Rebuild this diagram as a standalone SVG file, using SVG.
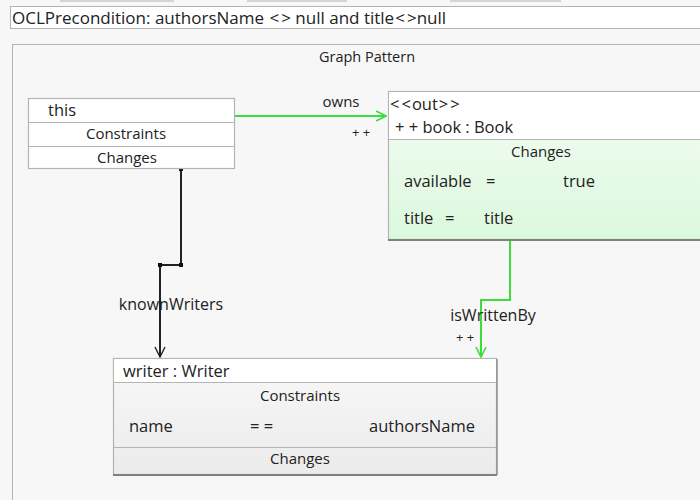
<svg xmlns="http://www.w3.org/2000/svg" width="700" height="500" viewBox="0 0 700 500">
  <defs>
    <linearGradient id="greenFill" x1="0" y1="0" x2="0" y2="1">
      <stop offset="0" stop-color="#f4fdf4"/>
      <stop offset="1" stop-color="#dbf8dd"/>
    </linearGradient>
    <linearGradient id="greyFill" x1="0" y1="0" x2="0" y2="1">
      <stop offset="0" stop-color="#f8f8f8"/>
      <stop offset="1" stop-color="#ebebeb"/>
    </linearGradient>
    <marker id="arrowGreen" viewBox="0 0 12 12" refX="11" refY="6" markerWidth="12" markerHeight="12" markerUnits="userSpaceOnUse" orient="auto">
      <path d="M1,1 L11,6 L1,11" fill="none" stroke="#3ddc3d" stroke-width="1.6"/>
    </marker>
    <marker id="arrowBlack" viewBox="0 0 12 12" refX="11" refY="6" markerWidth="12" markerHeight="12" markerUnits="userSpaceOnUse" orient="auto">
      <path d="M1,1 L11,6 L1,11" fill="none" stroke="#222" stroke-width="1.4"/>
    </marker>
  </defs>
  <style>
    text { font-family: "Open Sans", "Noto Sans", "DejaVu Sans", sans-serif; fill: #222; }
    .t17 { font-size: 17px; }
    .t16 { font-size: 16.5px; }
    .t15 { font-size: 15px; }
    .t14 { font-size: 14.5px; }
    .pp { font-size: 13px; }
    .lbl { font-size: 16px; }
    .box { fill: #ffffff; stroke: #b4b4b4; stroke-width: 1.2; }
    .sep { stroke: #b4b4b4; stroke-width: 1.2; }
    .shadow { fill: none; stroke: #808080; stroke-width: 2; }
    .green { fill: none; stroke: #3ddc3d; stroke-width: 2; }
    .black { fill: none; stroke: #222; stroke-width: 2; }
    .handle { fill: #111; }
  </style>

  <rect x="0" y="0" width="700" height="500" fill="#f7f7f7"/>

  <!-- edges of panels above -->
  <g fill="#d4d4d4">
    <rect x="60" y="0" width="114" height="2"/>
    <rect x="247" y="0" width="100" height="2"/>
    <rect x="450" y="0" width="111" height="2"/>
  </g>

  <!-- precondition bar -->
  <g id="precondition">
    <rect x="10.5" y="6.5" width="700" height="22" fill="#ffffff" stroke="#b4b4b4"/>
    <text x="12" y="24" class="t17">OCLPrecondition: authorsName <tspan dx="1">&lt;</tspan><tspan dx="2">&gt;</tspan> null and title<tspan dx="1">&lt;</tspan><tspan dx="2">&gt;</tspan>null</text>
  </g>

  <!-- graph pattern frame -->
  <g id="graphPattern">
    <rect x="12.5" y="44.5" width="700" height="470" fill="#f7f7f7" stroke="#b4b4b4"/>
    <text x="367" y="62" class="t14" text-anchor="middle">Graph Pattern</text>
  </g>

  <!-- connectors -->
  <g id="connectors">
    <path class="green" d="M235,116 L386,116" marker-end="url(#arrowGreen)"/>
    <text x="341" y="107" class="t15" text-anchor="middle">owns</text>
    <text x="361" y="137" class="pp" text-anchor="middle">+ +</text>

    <path class="black" d="M181,169 V265 H160 V357" marker-end="url(#arrowBlack)"/>
    <rect class="handle" x="179" y="167" width="4" height="4"/>
    <rect class="handle" x="179" y="263" width="4" height="4"/>
    <rect class="handle" x="158" y="263" width="4" height="4"/>
    <text x="171" y="310" class="lbl" text-anchor="middle">knownWriters</text>

    <path class="green" d="M510,241 V300 H481 V357" marker-end="url(#arrowGreen)"/>
    <text x="493" y="321" class="lbl" text-anchor="middle">isWrittenBy</text>
    <text x="465" y="342" class="pp" text-anchor="middle">+ +</text>
  </g>

  <!-- this -->
  <g id="node-this">
    <rect class="box" x="28.5" y="98.5" width="206" height="70"/>
    <line class="sep" x1="28.5" y1="122.5" x2="234.5" y2="122.5"/>
    <line class="sep" x1="28.5" y1="146.5" x2="234.5" y2="146.5"/>
    <text x="48" y="116" class="t16">this</text>
    <text x="126" y="139" class="t15" text-anchor="middle">Constraints</text>
    <text x="127" y="163" class="t15" text-anchor="middle">Changes</text>
  </g>

  <!-- book : Book -->
  <g id="node-book">
    <rect x="388.5" y="91.5" width="330" height="148" fill="url(#greenFill)" stroke="#b4b4b4" stroke-width="1.2"/>
    <rect x="389" y="92" width="330" height="47" fill="#ffffff"/>
    <line class="sep" x1="388.5" y1="139.5" x2="718" y2="139.5"/>
    <line class="shadow" x1="388" y1="240" x2="700" y2="240"/>
    <text x="390" y="110" class="t16">&lt;<tspan dx="2">&lt;</tspan><tspan dx="1">out</tspan><tspan dx="1">&gt;</tspan><tspan dx="2">&gt;</tspan></text>
    <text x="395" y="133" class="t16">+ + book : Book</text>
    <text x="541" y="157" class="t15" text-anchor="middle">Changes</text>
    <text x="404" y="187" class="t16">available</text>
    <text x="486" y="187" class="t16">=</text>
    <text x="563" y="187" class="t16">true</text>
    <text x="404" y="224" class="t16">title</text>
    <text x="445" y="224" class="t16">=</text>
    <text x="484" y="224" class="t16">title</text>
  </g>

  <!-- writer : Writer -->
  <g id="node-writer">
    <rect x="113.5" y="358.5" width="383" height="116" fill="url(#greyFill)" stroke="#b4b4b4" stroke-width="1.2"/>
    <rect x="114" y="359" width="382" height="23" fill="#ffffff"/>
    <line class="sep" x1="113.5" y1="382.5" x2="496.5" y2="382.5"/>
    <line class="sep" x1="113.5" y1="447.5" x2="496.5" y2="447.5"/>
    <line class="shadow" x1="113" y1="475" x2="497" y2="475"/>
    <line x1="497" y1="359" x2="497" y2="475" stroke="#909090" stroke-width="1.5"/>
    <text x="123" y="377" class="t16">writer : Writer</text>
    <text x="300" y="401" class="t15" text-anchor="middle">Constraints</text>
    <text x="129" y="432" class="t16">name</text>
    <text x="250" y="432" class="t16">= =</text>
    <text x="369" y="432" class="t16">authorsName</text>
    <text x="300" y="464" class="t15" text-anchor="middle">Changes</text>
  </g>
</svg>
